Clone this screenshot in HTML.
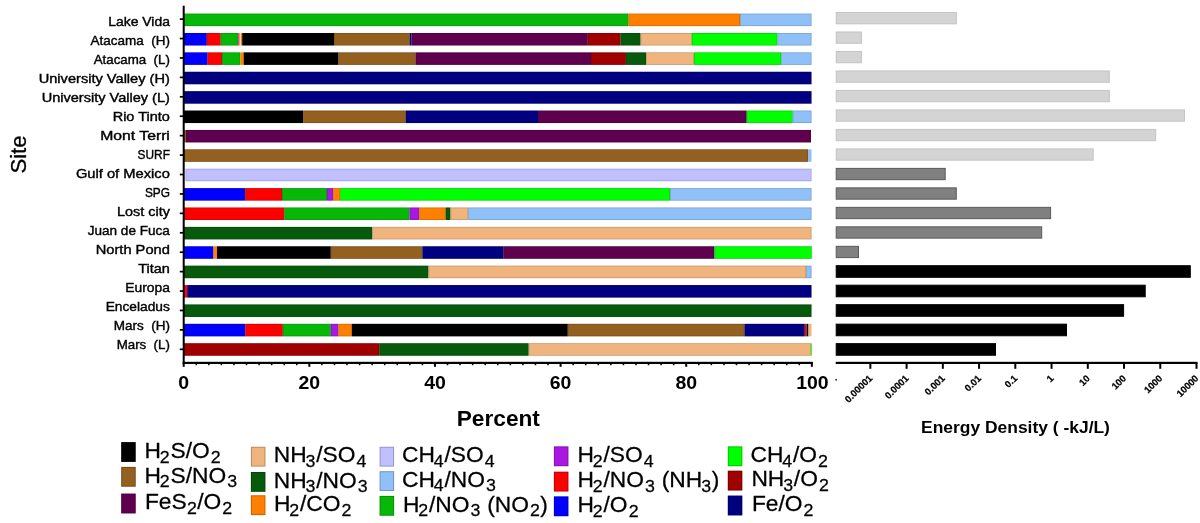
<!DOCTYPE html>
<html><head><meta charset="utf-8"><title>chart</title>
<style>html,body{margin:0;padding:0;background:#fff;width:1200px;height:523px;overflow:hidden}</style></head>
<body>
<svg width="1200" height="523" viewBox="0 0 1200 523" style="position:absolute;left:0;top:0;will-change:transform;filter:blur(0.4px)">
<rect width="1200" height="523" fill="#fff"/>
<rect x="184.00" y="13.60" width="444.50" height="12.5" fill="#08b808"/>
<rect x="184.40" y="14.00" width="443.70" height="11.7" fill="none" stroke="#000" stroke-opacity="0.16" stroke-width="0.8"/>
<rect x="628.50" y="13.60" width="111.50" height="12.5" fill="#ff8000"/>
<rect x="628.90" y="14.00" width="110.70" height="11.7" fill="none" stroke="#000" stroke-opacity="0.16" stroke-width="0.8"/>
<rect x="740.00" y="13.60" width="71.50" height="12.5" fill="#90c0f8"/>
<rect x="740.40" y="14.00" width="70.70" height="11.7" fill="none" stroke="#000" stroke-opacity="0.16" stroke-width="0.8"/>
<rect x="184.00" y="32.99" width="22.80" height="12.5" fill="#0000ff"/>
<rect x="184.40" y="33.39" width="22.00" height="11.7" fill="none" stroke="#000" stroke-opacity="0.16" stroke-width="0.8"/>
<rect x="206.80" y="32.99" width="13.90" height="12.5" fill="#ff0000"/>
<rect x="207.20" y="33.39" width="13.10" height="11.7" fill="none" stroke="#000" stroke-opacity="0.16" stroke-width="0.8"/>
<rect x="220.70" y="32.99" width="17.60" height="12.5" fill="#08b808"/>
<rect x="221.10" y="33.39" width="16.80" height="11.7" fill="none" stroke="#000" stroke-opacity="0.16" stroke-width="0.8"/>
<rect x="238.30" y="32.99" width="1.40" height="12.5" fill="#e8206a"/>
<rect x="239.70" y="32.99" width="1.30" height="12.5" fill="#ffd9b0"/>
<rect x="241.00" y="32.99" width="1.20" height="12.5" fill="#ff8000"/>
<rect x="242.20" y="32.99" width="91.80" height="12.5" fill="#000000"/>
<rect x="242.60" y="33.39" width="91.00" height="11.7" fill="none" stroke="#000" stroke-opacity="0.16" stroke-width="0.8"/>
<rect x="334.00" y="32.99" width="75.80" height="12.5" fill="#93601f"/>
<rect x="334.40" y="33.39" width="75.00" height="11.7" fill="none" stroke="#000" stroke-opacity="0.16" stroke-width="0.8"/>
<rect x="409.80" y="32.99" width="1.80" height="12.5" fill="#000080"/>
<rect x="411.60" y="32.99" width="176.20" height="12.5" fill="#5f004f"/>
<rect x="412.00" y="33.39" width="175.40" height="11.7" fill="none" stroke="#000" stroke-opacity="0.16" stroke-width="0.8"/>
<rect x="587.80" y="32.99" width="32.70" height="12.5" fill="#a00000"/>
<rect x="588.20" y="33.39" width="31.90" height="11.7" fill="none" stroke="#000" stroke-opacity="0.16" stroke-width="0.8"/>
<rect x="620.50" y="32.99" width="20.10" height="12.5" fill="#075a0b"/>
<rect x="620.90" y="33.39" width="19.30" height="11.7" fill="none" stroke="#000" stroke-opacity="0.16" stroke-width="0.8"/>
<rect x="640.60" y="32.99" width="51.20" height="12.5" fill="#f0b57f"/>
<rect x="641.00" y="33.39" width="50.40" height="11.7" fill="none" stroke="#000" stroke-opacity="0.16" stroke-width="0.8"/>
<rect x="691.80" y="32.99" width="85.60" height="12.5" fill="#00ff00"/>
<rect x="692.20" y="33.39" width="84.80" height="11.7" fill="none" stroke="#000" stroke-opacity="0.16" stroke-width="0.8"/>
<rect x="777.40" y="32.99" width="34.10" height="12.5" fill="#90c0f8"/>
<rect x="777.80" y="33.39" width="33.30" height="11.7" fill="none" stroke="#000" stroke-opacity="0.16" stroke-width="0.8"/>
<rect x="184.00" y="52.38" width="23.60" height="12.5" fill="#0000ff"/>
<rect x="184.40" y="52.78" width="22.80" height="11.7" fill="none" stroke="#000" stroke-opacity="0.16" stroke-width="0.8"/>
<rect x="207.60" y="52.38" width="14.40" height="12.5" fill="#ff0000"/>
<rect x="208.00" y="52.78" width="13.60" height="11.7" fill="none" stroke="#000" stroke-opacity="0.16" stroke-width="0.8"/>
<rect x="222.00" y="52.38" width="18.30" height="12.5" fill="#08b808"/>
<rect x="222.40" y="52.78" width="17.50" height="11.7" fill="none" stroke="#000" stroke-opacity="0.16" stroke-width="0.8"/>
<rect x="240.30" y="52.38" width="3.40" height="12.5" fill="#ff8000"/>
<rect x="243.70" y="52.38" width="94.80" height="12.5" fill="#000000"/>
<rect x="244.10" y="52.78" width="94.00" height="11.7" fill="none" stroke="#000" stroke-opacity="0.16" stroke-width="0.8"/>
<rect x="338.50" y="52.38" width="77.20" height="12.5" fill="#93601f"/>
<rect x="338.90" y="52.78" width="76.40" height="11.7" fill="none" stroke="#000" stroke-opacity="0.16" stroke-width="0.8"/>
<rect x="415.70" y="52.38" width="175.30" height="12.5" fill="#5f004f"/>
<rect x="416.10" y="52.78" width="174.50" height="11.7" fill="none" stroke="#000" stroke-opacity="0.16" stroke-width="0.8"/>
<rect x="591.00" y="52.38" width="34.90" height="12.5" fill="#a00000"/>
<rect x="591.40" y="52.78" width="34.10" height="11.7" fill="none" stroke="#000" stroke-opacity="0.16" stroke-width="0.8"/>
<rect x="625.90" y="52.38" width="20.10" height="12.5" fill="#075a0b"/>
<rect x="626.30" y="52.78" width="19.30" height="11.7" fill="none" stroke="#000" stroke-opacity="0.16" stroke-width="0.8"/>
<rect x="646.00" y="52.38" width="47.90" height="12.5" fill="#f0b57f"/>
<rect x="646.40" y="52.78" width="47.10" height="11.7" fill="none" stroke="#000" stroke-opacity="0.16" stroke-width="0.8"/>
<rect x="693.90" y="52.38" width="87.30" height="12.5" fill="#00ff00"/>
<rect x="694.30" y="52.78" width="86.50" height="11.7" fill="none" stroke="#000" stroke-opacity="0.16" stroke-width="0.8"/>
<rect x="781.20" y="52.38" width="30.30" height="12.5" fill="#90c0f8"/>
<rect x="781.60" y="52.78" width="29.50" height="11.7" fill="none" stroke="#000" stroke-opacity="0.16" stroke-width="0.8"/>
<rect x="184.00" y="71.77" width="627.50" height="12.5" fill="#000080"/>
<rect x="184.40" y="72.17" width="626.70" height="11.7" fill="none" stroke="#000" stroke-opacity="0.16" stroke-width="0.8"/>
<rect x="184.00" y="91.16" width="627.50" height="12.5" fill="#000080"/>
<rect x="184.40" y="91.56" width="626.70" height="11.7" fill="none" stroke="#000" stroke-opacity="0.16" stroke-width="0.8"/>
<rect x="184.00" y="110.55" width="119.20" height="12.5" fill="#000000"/>
<rect x="184.40" y="110.95" width="118.40" height="11.7" fill="none" stroke="#000" stroke-opacity="0.16" stroke-width="0.8"/>
<rect x="303.20" y="110.55" width="102.60" height="12.5" fill="#93601f"/>
<rect x="303.60" y="110.95" width="101.80" height="11.7" fill="none" stroke="#000" stroke-opacity="0.16" stroke-width="0.8"/>
<rect x="405.80" y="110.55" width="132.20" height="12.5" fill="#000080"/>
<rect x="406.20" y="110.95" width="131.40" height="11.7" fill="none" stroke="#000" stroke-opacity="0.16" stroke-width="0.8"/>
<rect x="538.00" y="110.55" width="208.70" height="12.5" fill="#5f004f"/>
<rect x="538.40" y="110.95" width="207.90" height="11.7" fill="none" stroke="#000" stroke-opacity="0.16" stroke-width="0.8"/>
<rect x="746.70" y="110.55" width="46.00" height="12.5" fill="#00ff00"/>
<rect x="747.10" y="110.95" width="45.20" height="11.7" fill="none" stroke="#000" stroke-opacity="0.16" stroke-width="0.8"/>
<rect x="792.70" y="110.55" width="18.80" height="12.5" fill="#90c0f8"/>
<rect x="793.10" y="110.95" width="18.00" height="11.7" fill="none" stroke="#000" stroke-opacity="0.16" stroke-width="0.8"/>
<rect x="184.00" y="129.94" width="2.00" height="12.5" fill="#93601f"/>
<rect x="186.00" y="129.94" width="625.00" height="12.5" fill="#5f004f"/>
<rect x="186.40" y="130.34" width="624.20" height="11.7" fill="none" stroke="#000" stroke-opacity="0.16" stroke-width="0.8"/>
<rect x="184.00" y="149.33" width="624.00" height="12.5" fill="#93601f"/>
<rect x="184.40" y="149.73" width="623.20" height="11.7" fill="none" stroke="#000" stroke-opacity="0.16" stroke-width="0.8"/>
<rect x="808.00" y="149.33" width="3.50" height="12.5" fill="#90c0f8"/>
<rect x="185.50" y="168.72" width="626.00" height="12.5" fill="#c0c0ff"/>
<rect x="185.90" y="169.12" width="625.20" height="11.7" fill="none" stroke="#000" stroke-opacity="0.16" stroke-width="0.8"/>
<rect x="184.00" y="188.11" width="61.10" height="12.5" fill="#0000ff"/>
<rect x="184.40" y="188.51" width="60.30" height="11.7" fill="none" stroke="#000" stroke-opacity="0.16" stroke-width="0.8"/>
<rect x="245.10" y="188.11" width="36.90" height="12.5" fill="#ff0000"/>
<rect x="245.50" y="188.51" width="36.10" height="11.7" fill="none" stroke="#000" stroke-opacity="0.16" stroke-width="0.8"/>
<rect x="282.00" y="188.11" width="45.00" height="12.5" fill="#08b808"/>
<rect x="282.40" y="188.51" width="44.20" height="11.7" fill="none" stroke="#000" stroke-opacity="0.16" stroke-width="0.8"/>
<rect x="327.00" y="188.11" width="6.20" height="12.5" fill="#a818e0"/>
<rect x="327.40" y="188.51" width="5.40" height="11.7" fill="none" stroke="#000" stroke-opacity="0.16" stroke-width="0.8"/>
<rect x="333.20" y="188.11" width="7.00" height="12.5" fill="#ff8000"/>
<rect x="333.60" y="188.51" width="6.20" height="11.7" fill="none" stroke="#000" stroke-opacity="0.16" stroke-width="0.8"/>
<rect x="340.20" y="188.11" width="329.80" height="12.5" fill="#00ff00"/>
<rect x="340.60" y="188.51" width="329.00" height="11.7" fill="none" stroke="#000" stroke-opacity="0.16" stroke-width="0.8"/>
<rect x="670.00" y="188.11" width="141.50" height="12.5" fill="#90c0f8"/>
<rect x="670.40" y="188.51" width="140.70" height="11.7" fill="none" stroke="#000" stroke-opacity="0.16" stroke-width="0.8"/>
<rect x="184.00" y="207.50" width="100.40" height="12.5" fill="#ff0000"/>
<rect x="184.40" y="207.90" width="99.60" height="11.7" fill="none" stroke="#000" stroke-opacity="0.16" stroke-width="0.8"/>
<rect x="284.40" y="207.50" width="125.10" height="12.5" fill="#08b808"/>
<rect x="284.80" y="207.90" width="124.30" height="11.7" fill="none" stroke="#000" stroke-opacity="0.16" stroke-width="0.8"/>
<rect x="409.50" y="207.50" width="9.70" height="12.5" fill="#a818e0"/>
<rect x="409.90" y="207.90" width="8.90" height="11.7" fill="none" stroke="#000" stroke-opacity="0.16" stroke-width="0.8"/>
<rect x="419.20" y="207.50" width="26.50" height="12.5" fill="#ff8000"/>
<rect x="419.60" y="207.90" width="25.70" height="11.7" fill="none" stroke="#000" stroke-opacity="0.16" stroke-width="0.8"/>
<rect x="445.70" y="207.50" width="4.80" height="12.5" fill="#075a0b"/>
<rect x="446.10" y="207.90" width="4.00" height="11.7" fill="none" stroke="#000" stroke-opacity="0.16" stroke-width="0.8"/>
<rect x="450.50" y="207.50" width="17.70" height="12.5" fill="#f0b57f"/>
<rect x="450.90" y="207.90" width="16.90" height="11.7" fill="none" stroke="#000" stroke-opacity="0.16" stroke-width="0.8"/>
<rect x="468.20" y="207.50" width="343.30" height="12.5" fill="#90c0f8"/>
<rect x="468.60" y="207.90" width="342.50" height="11.7" fill="none" stroke="#000" stroke-opacity="0.16" stroke-width="0.8"/>
<rect x="184.00" y="226.89" width="188.30" height="12.5" fill="#075a0b"/>
<rect x="184.40" y="227.29" width="187.50" height="11.7" fill="none" stroke="#000" stroke-opacity="0.16" stroke-width="0.8"/>
<rect x="372.30" y="226.89" width="439.20" height="12.5" fill="#f0b57f"/>
<rect x="372.70" y="227.29" width="438.40" height="11.7" fill="none" stroke="#000" stroke-opacity="0.16" stroke-width="0.8"/>
<rect x="184.00" y="246.28" width="29.50" height="12.5" fill="#0000ff"/>
<rect x="184.40" y="246.68" width="28.70" height="11.7" fill="none" stroke="#000" stroke-opacity="0.16" stroke-width="0.8"/>
<rect x="213.50" y="246.28" width="3.50" height="12.5" fill="#ff8000"/>
<rect x="217.00" y="246.28" width="113.80" height="12.5" fill="#000000"/>
<rect x="217.40" y="246.68" width="113.00" height="11.7" fill="none" stroke="#000" stroke-opacity="0.16" stroke-width="0.8"/>
<rect x="330.80" y="246.28" width="91.60" height="12.5" fill="#93601f"/>
<rect x="331.20" y="246.68" width="90.80" height="11.7" fill="none" stroke="#000" stroke-opacity="0.16" stroke-width="0.8"/>
<rect x="422.40" y="246.28" width="80.80" height="12.5" fill="#000080"/>
<rect x="422.80" y="246.68" width="80.00" height="11.7" fill="none" stroke="#000" stroke-opacity="0.16" stroke-width="0.8"/>
<rect x="503.20" y="246.28" width="211.30" height="12.5" fill="#5f004f"/>
<rect x="503.60" y="246.68" width="210.50" height="11.7" fill="none" stroke="#000" stroke-opacity="0.16" stroke-width="0.8"/>
<rect x="714.50" y="246.28" width="97.20" height="12.5" fill="#00ff00"/>
<rect x="714.90" y="246.68" width="96.40" height="11.7" fill="none" stroke="#000" stroke-opacity="0.16" stroke-width="0.8"/>
<rect x="184.00" y="265.67" width="244.50" height="12.5" fill="#075a0b"/>
<rect x="184.40" y="266.07" width="243.70" height="11.7" fill="none" stroke="#000" stroke-opacity="0.16" stroke-width="0.8"/>
<rect x="428.50" y="265.67" width="377.60" height="12.5" fill="#f0b57f"/>
<rect x="428.90" y="266.07" width="376.80" height="11.7" fill="none" stroke="#000" stroke-opacity="0.16" stroke-width="0.8"/>
<rect x="806.10" y="265.67" width="5.40" height="12.5" fill="#90c0f8"/>
<rect x="806.50" y="266.07" width="4.60" height="11.7" fill="none" stroke="#000" stroke-opacity="0.16" stroke-width="0.8"/>
<rect x="184.00" y="285.06" width="3.20" height="12.5" fill="#ff0000"/>
<rect x="187.20" y="285.06" width="624.30" height="12.5" fill="#000080"/>
<rect x="187.60" y="285.46" width="623.50" height="11.7" fill="none" stroke="#000" stroke-opacity="0.16" stroke-width="0.8"/>
<rect x="184.00" y="304.45" width="627.50" height="12.5" fill="#075a0b"/>
<rect x="184.40" y="304.85" width="626.70" height="11.7" fill="none" stroke="#000" stroke-opacity="0.16" stroke-width="0.8"/>
<rect x="184.00" y="323.84" width="61.30" height="12.5" fill="#0000ff"/>
<rect x="184.40" y="324.24" width="60.50" height="11.7" fill="none" stroke="#000" stroke-opacity="0.16" stroke-width="0.8"/>
<rect x="245.30" y="323.84" width="37.50" height="12.5" fill="#ff0000"/>
<rect x="245.70" y="324.24" width="36.70" height="11.7" fill="none" stroke="#000" stroke-opacity="0.16" stroke-width="0.8"/>
<rect x="282.80" y="323.84" width="48.00" height="12.5" fill="#08b808"/>
<rect x="283.20" y="324.24" width="47.20" height="11.7" fill="none" stroke="#000" stroke-opacity="0.16" stroke-width="0.8"/>
<rect x="330.80" y="323.84" width="7.70" height="12.5" fill="#a818e0"/>
<rect x="331.20" y="324.24" width="6.90" height="11.7" fill="none" stroke="#000" stroke-opacity="0.16" stroke-width="0.8"/>
<rect x="338.50" y="323.84" width="13.40" height="12.5" fill="#ff8000"/>
<rect x="338.90" y="324.24" width="12.60" height="11.7" fill="none" stroke="#000" stroke-opacity="0.16" stroke-width="0.8"/>
<rect x="351.90" y="323.84" width="215.90" height="12.5" fill="#000000"/>
<rect x="352.30" y="324.24" width="215.10" height="11.7" fill="none" stroke="#000" stroke-opacity="0.16" stroke-width="0.8"/>
<rect x="567.80" y="323.84" width="176.70" height="12.5" fill="#93601f"/>
<rect x="568.20" y="324.24" width="175.90" height="11.7" fill="none" stroke="#000" stroke-opacity="0.16" stroke-width="0.8"/>
<rect x="744.50" y="323.84" width="60.30" height="12.5" fill="#000080"/>
<rect x="744.90" y="324.24" width="59.50" height="11.7" fill="none" stroke="#000" stroke-opacity="0.16" stroke-width="0.8"/>
<rect x="804.80" y="323.84" width="1.80" height="12.5" fill="#ff0000"/>
<rect x="806.60" y="323.84" width="1.90" height="12.5" fill="#000000"/>
<rect x="808.50" y="323.84" width="3.00" height="12.5" fill="#f0b57f"/>
<rect x="184.00" y="343.23" width="195.20" height="12.5" fill="#a00000"/>
<rect x="184.40" y="343.63" width="194.40" height="11.7" fill="none" stroke="#000" stroke-opacity="0.16" stroke-width="0.8"/>
<rect x="379.20" y="343.23" width="149.50" height="12.5" fill="#075a0b"/>
<rect x="379.60" y="343.63" width="148.70" height="11.7" fill="none" stroke="#000" stroke-opacity="0.16" stroke-width="0.8"/>
<rect x="528.70" y="343.23" width="282.20" height="12.5" fill="#f0b57f"/>
<rect x="529.10" y="343.63" width="281.40" height="11.7" fill="none" stroke="#000" stroke-opacity="0.16" stroke-width="0.8"/>
<rect x="810.90" y="343.23" width="0.90" height="12.5" fill="#00ff00"/>
<rect x="836.20" y="12.50" width="120.10" height="11.3" fill="#d4d4d4" stroke="#c4c4c4" stroke-width="1"/>
<rect x="836.20" y="31.98" width="25.20" height="11.3" fill="#d4d4d4" stroke="#c4c4c4" stroke-width="1"/>
<rect x="836.20" y="51.47" width="25.20" height="11.3" fill="#d4d4d4" stroke="#c4c4c4" stroke-width="1"/>
<rect x="836.20" y="70.95" width="273.10" height="11.3" fill="#d4d4d4" stroke="#c4c4c4" stroke-width="1"/>
<rect x="836.20" y="90.44" width="273.10" height="11.3" fill="#d4d4d4" stroke="#c4c4c4" stroke-width="1"/>
<rect x="836.20" y="109.92" width="348.30" height="11.3" fill="#d4d4d4" stroke="#c4c4c4" stroke-width="1"/>
<rect x="836.20" y="129.41" width="319.50" height="11.3" fill="#d4d4d4" stroke="#c4c4c4" stroke-width="1"/>
<rect x="836.20" y="148.89" width="257.00" height="11.3" fill="#d4d4d4" stroke="#c4c4c4" stroke-width="1"/>
<rect x="836.20" y="168.38" width="109.00" height="11.3" fill="#808080" stroke="#5a5a5a" stroke-width="1"/>
<rect x="836.20" y="187.87" width="120.10" height="11.3" fill="#808080" stroke="#5a5a5a" stroke-width="1"/>
<rect x="836.20" y="207.35" width="214.40" height="11.3" fill="#808080" stroke="#5a5a5a" stroke-width="1"/>
<rect x="836.20" y="226.83" width="205.50" height="11.3" fill="#808080" stroke="#5a5a5a" stroke-width="1"/>
<rect x="836.20" y="246.32" width="22.30" height="11.3" fill="#808080" stroke="#5a5a5a" stroke-width="1"/>
<rect x="836.20" y="265.70" width="354.10" height="11.6" fill="#000000" stroke="#000" stroke-width="1"/>
<rect x="836.20" y="285.19" width="309.00" height="11.6" fill="#000000" stroke="#000" stroke-width="1"/>
<rect x="836.20" y="304.67" width="287.40" height="11.6" fill="#000000" stroke="#000" stroke-width="1"/>
<rect x="836.20" y="324.16" width="230.30" height="11.6" fill="#000000" stroke="#000" stroke-width="1"/>
<rect x="836.20" y="343.64" width="159.30" height="11.6" fill="#000000" stroke="#000" stroke-width="1"/>
<rect x="182.7" y="5.7" width="2" height="358" fill="#000"/>
<rect x="182.7" y="361.8" width="630.2" height="2.2" fill="#000"/>
<rect x="179.8" y="18.25" width="3.5" height="1.7" fill="#000"/>
<rect x="179.8" y="37.68" width="3.5" height="1.7" fill="#000"/>
<rect x="179.8" y="57.10" width="3.5" height="1.7" fill="#000"/>
<rect x="179.8" y="76.53" width="3.5" height="1.7" fill="#000"/>
<rect x="179.8" y="95.95" width="3.5" height="1.7" fill="#000"/>
<rect x="179.8" y="115.38" width="3.5" height="1.7" fill="#000"/>
<rect x="179.8" y="134.80" width="3.5" height="1.7" fill="#000"/>
<rect x="179.8" y="154.22" width="3.5" height="1.7" fill="#000"/>
<rect x="179.8" y="173.65" width="3.5" height="1.7" fill="#000"/>
<rect x="179.8" y="193.08" width="3.5" height="1.7" fill="#000"/>
<rect x="179.8" y="212.50" width="3.5" height="1.7" fill="#000"/>
<rect x="179.8" y="231.93" width="3.5" height="1.7" fill="#000"/>
<rect x="179.8" y="251.35" width="3.5" height="1.7" fill="#000"/>
<rect x="179.8" y="270.77" width="3.5" height="1.7" fill="#000"/>
<rect x="179.8" y="290.20" width="3.5" height="1.7" fill="#000"/>
<rect x="179.8" y="309.62" width="3.5" height="1.7" fill="#000"/>
<rect x="179.8" y="329.05" width="3.5" height="1.7" fill="#000"/>
<rect x="179.8" y="348.48" width="3.5" height="1.7" fill="#000"/>
<rect x="182.70" y="363" width="2" height="3.8" fill="#000"/>
<rect x="195.46" y="363" width="1.6" height="2.2" fill="#000"/>
<rect x="208.03" y="363" width="1.6" height="2.2" fill="#000"/>
<rect x="220.59" y="363" width="1.6" height="2.2" fill="#000"/>
<rect x="233.15" y="363" width="1.6" height="2.2" fill="#000"/>
<rect x="245.71" y="363" width="1.6" height="2.2" fill="#000"/>
<rect x="258.28" y="363" width="1.6" height="2.2" fill="#000"/>
<rect x="270.84" y="363" width="1.6" height="2.2" fill="#000"/>
<rect x="283.40" y="363" width="1.6" height="2.2" fill="#000"/>
<rect x="295.97" y="363" width="1.6" height="2.2" fill="#000"/>
<rect x="308.33" y="363" width="2" height="3.8" fill="#000"/>
<rect x="321.09" y="363" width="1.6" height="2.2" fill="#000"/>
<rect x="333.66" y="363" width="1.6" height="2.2" fill="#000"/>
<rect x="346.22" y="363" width="1.6" height="2.2" fill="#000"/>
<rect x="358.78" y="363" width="1.6" height="2.2" fill="#000"/>
<rect x="371.34" y="363" width="1.6" height="2.2" fill="#000"/>
<rect x="383.91" y="363" width="1.6" height="2.2" fill="#000"/>
<rect x="396.47" y="363" width="1.6" height="2.2" fill="#000"/>
<rect x="409.03" y="363" width="1.6" height="2.2" fill="#000"/>
<rect x="421.60" y="363" width="1.6" height="2.2" fill="#000"/>
<rect x="433.96" y="363" width="2" height="3.8" fill="#000"/>
<rect x="446.72" y="363" width="1.6" height="2.2" fill="#000"/>
<rect x="459.29" y="363" width="1.6" height="2.2" fill="#000"/>
<rect x="471.85" y="363" width="1.6" height="2.2" fill="#000"/>
<rect x="484.41" y="363" width="1.6" height="2.2" fill="#000"/>
<rect x="496.97" y="363" width="1.6" height="2.2" fill="#000"/>
<rect x="509.54" y="363" width="1.6" height="2.2" fill="#000"/>
<rect x="522.10" y="363" width="1.6" height="2.2" fill="#000"/>
<rect x="534.66" y="363" width="1.6" height="2.2" fill="#000"/>
<rect x="547.23" y="363" width="1.6" height="2.2" fill="#000"/>
<rect x="559.59" y="363" width="2" height="3.8" fill="#000"/>
<rect x="572.35" y="363" width="1.6" height="2.2" fill="#000"/>
<rect x="584.92" y="363" width="1.6" height="2.2" fill="#000"/>
<rect x="597.48" y="363" width="1.6" height="2.2" fill="#000"/>
<rect x="610.04" y="363" width="1.6" height="2.2" fill="#000"/>
<rect x="622.61" y="363" width="1.6" height="2.2" fill="#000"/>
<rect x="635.17" y="363" width="1.6" height="2.2" fill="#000"/>
<rect x="647.73" y="363" width="1.6" height="2.2" fill="#000"/>
<rect x="660.29" y="363" width="1.6" height="2.2" fill="#000"/>
<rect x="672.86" y="363" width="1.6" height="2.2" fill="#000"/>
<rect x="685.22" y="363" width="2" height="3.8" fill="#000"/>
<rect x="697.98" y="363" width="1.6" height="2.2" fill="#000"/>
<rect x="710.55" y="363" width="1.6" height="2.2" fill="#000"/>
<rect x="723.11" y="363" width="1.6" height="2.2" fill="#000"/>
<rect x="735.67" y="363" width="1.6" height="2.2" fill="#000"/>
<rect x="748.24" y="363" width="1.6" height="2.2" fill="#000"/>
<rect x="760.80" y="363" width="1.6" height="2.2" fill="#000"/>
<rect x="773.36" y="363" width="1.6" height="2.2" fill="#000"/>
<rect x="785.92" y="363" width="1.6" height="2.2" fill="#000"/>
<rect x="798.49" y="363" width="1.6" height="2.2" fill="#000"/>
<rect x="810.85" y="363" width="2" height="3.8" fill="#000"/>
<rect x="835.7" y="361.8" width="361.8" height="2.2" fill="#000"/>
<rect x="869.35" y="363" width="2" height="5.8" fill="#000"/>
<rect x="905.59" y="363" width="2" height="5.8" fill="#000"/>
<rect x="941.83" y="363" width="2" height="5.8" fill="#000"/>
<rect x="978.07" y="363" width="2" height="5.8" fill="#000"/>
<rect x="1014.31" y="363" width="2" height="5.8" fill="#000"/>
<rect x="1050.55" y="363" width="2" height="5.8" fill="#000"/>
<rect x="1086.79" y="363" width="2" height="5.8" fill="#000"/>
<rect x="1123.03" y="363" width="2" height="5.8" fill="#000"/>
<rect x="1159.27" y="363" width="2" height="5.8" fill="#000"/>
<rect x="1195.51" y="363" width="2" height="5.8" fill="#000"/>
<rect x="835.3" y="379.0" width="1.6" height="1.5" fill="#222"/>
<text x="108.20" y="25.75" font-family="Liberation Sans, sans-serif" font-size="13.4" textLength="61.70" lengthAdjust="spacingAndGlyphs" fill="#000" stroke="#000" stroke-width="0.4">Lake Vida</text>
<text x="90.50" y="44.79" font-family="Liberation Sans, sans-serif" font-size="13.4" textLength="79.40" lengthAdjust="spacingAndGlyphs" fill="#000" stroke="#000" stroke-width="0.4">Atacama &#160;(H)</text>
<text x="93.70" y="63.83" font-family="Liberation Sans, sans-serif" font-size="13.4" textLength="76.20" lengthAdjust="spacingAndGlyphs" fill="#000" stroke="#000" stroke-width="0.4">Atacama &#160;(L)</text>
<text x="38.70" y="82.87" font-family="Liberation Sans, sans-serif" font-size="13.4" textLength="131.20" lengthAdjust="spacingAndGlyphs" fill="#000" stroke="#000" stroke-width="0.4">University Valley (H)</text>
<text x="41.70" y="101.91" font-family="Liberation Sans, sans-serif" font-size="13.4" textLength="128.20" lengthAdjust="spacingAndGlyphs" fill="#000" stroke="#000" stroke-width="0.4">University Valley (L)</text>
<text x="112.70" y="120.95" font-family="Liberation Sans, sans-serif" font-size="13.4" textLength="57.20" lengthAdjust="spacingAndGlyphs" fill="#000" stroke="#000" stroke-width="0.4">Rio Tinto</text>
<text x="100.20" y="139.99" font-family="Liberation Sans, sans-serif" font-size="13.4" textLength="69.70" lengthAdjust="spacingAndGlyphs" fill="#000" stroke="#000" stroke-width="0.4">Mont Terri</text>
<text x="137.60" y="159.03" font-family="Liberation Sans, sans-serif" font-size="13.4" textLength="32.30" lengthAdjust="spacingAndGlyphs" fill="#000" stroke="#000" stroke-width="0.4">SURF</text>
<text x="75.90" y="178.07" font-family="Liberation Sans, sans-serif" font-size="13.4" textLength="94.00" lengthAdjust="spacingAndGlyphs" fill="#000" stroke="#000" stroke-width="0.4">Gulf of Mexico</text>
<text x="144.90" y="197.11" font-family="Liberation Sans, sans-serif" font-size="13.4" textLength="25.00" lengthAdjust="spacingAndGlyphs" fill="#000" stroke="#000" stroke-width="0.4">SPG</text>
<text x="117.10" y="216.15" font-family="Liberation Sans, sans-serif" font-size="13.4" textLength="52.80" lengthAdjust="spacingAndGlyphs" fill="#000" stroke="#000" stroke-width="0.4">Lost city</text>
<text x="87.70" y="235.19" font-family="Liberation Sans, sans-serif" font-size="13.4" textLength="82.20" lengthAdjust="spacingAndGlyphs" fill="#000" stroke="#000" stroke-width="0.4">Juan de Fuca</text>
<text x="95.70" y="254.23" font-family="Liberation Sans, sans-serif" font-size="13.4" textLength="74.20" lengthAdjust="spacingAndGlyphs" fill="#000" stroke="#000" stroke-width="0.4">North Pond</text>
<text x="138.20" y="273.27" font-family="Liberation Sans, sans-serif" font-size="13.4" textLength="31.70" lengthAdjust="spacingAndGlyphs" fill="#000" stroke="#000" stroke-width="0.4">Titan</text>
<text x="125.20" y="292.31" font-family="Liberation Sans, sans-serif" font-size="13.4" textLength="44.70" lengthAdjust="spacingAndGlyphs" fill="#000" stroke="#000" stroke-width="0.4">Europa</text>
<text x="105.70" y="311.35" font-family="Liberation Sans, sans-serif" font-size="13.4" textLength="64.20" lengthAdjust="spacingAndGlyphs" fill="#000" stroke="#000" stroke-width="0.4">Enceladus</text>
<text x="113.70" y="330.39" font-family="Liberation Sans, sans-serif" font-size="13.4" textLength="56.20" lengthAdjust="spacingAndGlyphs" fill="#000" stroke="#000" stroke-width="0.4">Mars &#160;(H)</text>
<text x="116.70" y="349.43" font-family="Liberation Sans, sans-serif" font-size="13.4" textLength="53.20" lengthAdjust="spacingAndGlyphs" fill="#000" stroke="#000" stroke-width="0.4">Mars &#160;(L)</text>
<text transform="translate(25.8,173.6) rotate(-90) scale(1.03,1)" font-family="Liberation Sans, sans-serif" font-size="21.5" fill="#000" stroke="#000" stroke-width="0.3">Site</text>
<text transform="translate(183.70,389.3) scale(1.07,1)" text-anchor="middle" font-family="Liberation Sans, sans-serif" font-weight="bold" font-size="18.2" fill="#000">0</text>
<text transform="translate(309.33,389.3) scale(1.07,1)" text-anchor="middle" font-family="Liberation Sans, sans-serif" font-weight="bold" font-size="18.2" fill="#000">20</text>
<text transform="translate(434.96,389.3) scale(1.07,1)" text-anchor="middle" font-family="Liberation Sans, sans-serif" font-weight="bold" font-size="18.2" fill="#000">40</text>
<text transform="translate(560.59,389.3) scale(1.07,1)" text-anchor="middle" font-family="Liberation Sans, sans-serif" font-weight="bold" font-size="18.2" fill="#000">60</text>
<text transform="translate(686.22,389.3) scale(1.07,1)" text-anchor="middle" font-family="Liberation Sans, sans-serif" font-weight="bold" font-size="18.2" fill="#000">80</text>
<text transform="translate(812.45,389.3) scale(1.07,1)" text-anchor="middle" font-family="Liberation Sans, sans-serif" font-weight="bold" font-size="18.2" fill="#000">100</text>
<text transform="translate(498.3,425.9) scale(1.05,1)" text-anchor="middle" font-family="Liberation Sans, sans-serif" font-weight="bold" font-size="21.6" fill="#000">Percent</text>
<text transform="translate(1015.5,433.2) scale(1.05,1)" text-anchor="middle" font-family="Liberation Sans, sans-serif" font-weight="bold" font-size="16.6" fill="#000">Energy Density ( -kJ/L)</text>
<text transform="translate(872.95,378.90) rotate(-45)" text-anchor="end" font-family="Liberation Sans, sans-serif" font-weight="bold" font-size="9.5" stroke="#000" stroke-width="0.25" fill="#000">0.00001</text>
<text transform="translate(909.19,378.90) rotate(-45)" text-anchor="end" font-family="Liberation Sans, sans-serif" font-weight="bold" font-size="9.5" stroke="#000" stroke-width="0.25" fill="#000">0.0001</text>
<text transform="translate(945.43,378.90) rotate(-45)" text-anchor="end" font-family="Liberation Sans, sans-serif" font-weight="bold" font-size="9.5" stroke="#000" stroke-width="0.25" fill="#000">0.001</text>
<text transform="translate(981.67,378.90) rotate(-45)" text-anchor="end" font-family="Liberation Sans, sans-serif" font-weight="bold" font-size="9.5" stroke="#000" stroke-width="0.25" fill="#000">0.01</text>
<text transform="translate(1017.91,378.90) rotate(-45)" text-anchor="end" font-family="Liberation Sans, sans-serif" font-weight="bold" font-size="9.5" stroke="#000" stroke-width="0.25" fill="#000">0.1</text>
<text transform="translate(1054.15,378.90) rotate(-45)" text-anchor="end" font-family="Liberation Sans, sans-serif" font-weight="bold" font-size="9.5" stroke="#000" stroke-width="0.25" fill="#000">1</text>
<text transform="translate(1090.39,378.90) rotate(-45)" text-anchor="end" font-family="Liberation Sans, sans-serif" font-weight="bold" font-size="9.5" stroke="#000" stroke-width="0.25" fill="#000">10</text>
<text transform="translate(1126.63,378.90) rotate(-45)" text-anchor="end" font-family="Liberation Sans, sans-serif" font-weight="bold" font-size="9.5" stroke="#000" stroke-width="0.25" fill="#000">100</text>
<text transform="translate(1162.87,378.90) rotate(-45)" text-anchor="end" font-family="Liberation Sans, sans-serif" font-weight="bold" font-size="9.5" stroke="#000" stroke-width="0.25" fill="#000">1000</text>
<text transform="translate(1199.11,378.90) rotate(-45)" text-anchor="end" font-family="Liberation Sans, sans-serif" font-weight="bold" font-size="9.5" stroke="#000" stroke-width="0.25" fill="#000">10000</text>
<rect x="121.20" y="442.10" width="14.5" height="19.8" fill="#000000"/>
<rect x="121.70" y="442.60" width="13.5" height="18.8" fill="none" stroke="#000" stroke-opacity="0.22" stroke-width="1"/>
<text transform="translate(144.50,458.10) scale(1.07,1)" font-family="Liberation Sans, sans-serif" font-size="21.3" fill="#000" stroke="#000" stroke-width="0.25">H<tspan font-size="16.6" dy="4.6" dx="-1.0">2</tspan><tspan dy="-4.6" dx="0.70">S</tspan>/O<tspan font-size="16.6" dy="4.6" dx="1.0">2</tspan></text>
<rect x="121.20" y="466.90" width="14.5" height="19.8" fill="#93601f"/>
<rect x="121.70" y="467.40" width="13.5" height="18.8" fill="none" stroke="#000" stroke-opacity="0.22" stroke-width="1"/>
<text transform="translate(144.50,482.60) scale(1.07,1)" font-family="Liberation Sans, sans-serif" font-size="21.3" fill="#000" stroke="#000" stroke-width="0.25">H<tspan font-size="16.6" dy="4.6" dx="-1.0">2</tspan><tspan dy="-4.6" dx="0.70">S</tspan>/NO<tspan font-size="16.6" dy="4.6" dx="1.0">3</tspan></text>
<rect x="121.20" y="493.60" width="14.5" height="19.8" fill="#5f004f"/>
<rect x="121.70" y="494.10" width="13.5" height="18.8" fill="none" stroke="#000" stroke-opacity="0.22" stroke-width="1"/>
<text transform="translate(144.90,509.40) scale(1.07,1)" font-family="Liberation Sans, sans-serif" font-size="21.3" fill="#000" stroke="#000" stroke-width="0.25">FeS<tspan font-size="16.6" dy="4.6" dx="0.2">2</tspan><tspan dy="-4.6" dx="0.40">/</tspan>O<tspan font-size="16.6" dy="4.6" dx="1.0">2</tspan></text>
<rect x="250.90" y="446.80" width="14.5" height="19.8" fill="#f0b57f"/>
<rect x="251.40" y="447.30" width="13.5" height="18.8" fill="none" stroke="#000" stroke-opacity="0.22" stroke-width="1"/>
<text transform="translate(273.70,462.30) scale(1.07,1)" font-family="Liberation Sans, sans-serif" font-size="21.3" fill="#000" stroke="#000" stroke-width="0.25">NH<tspan font-size="16.6" dy="4.6" dx="-1.0">3</tspan><tspan dy="-4.6" dx="0.70">/</tspan>SO<tspan font-size="16.6" dy="4.6" dx="1.0">4</tspan></text>
<rect x="250.90" y="472.00" width="14.5" height="19.8" fill="#075a0b"/>
<rect x="251.40" y="472.50" width="13.5" height="18.8" fill="none" stroke="#000" stroke-opacity="0.22" stroke-width="1"/>
<text transform="translate(273.70,487.50) scale(1.07,1)" font-family="Liberation Sans, sans-serif" font-size="21.3" fill="#000" stroke="#000" stroke-width="0.25">NH<tspan font-size="16.6" dy="4.6" dx="-1.0">3</tspan><tspan dy="-4.6" dx="0.70">/</tspan>NO<tspan font-size="16.6" dy="4.6" dx="1.0">3</tspan></text>
<rect x="250.90" y="495.30" width="14.5" height="19.8" fill="#ff8000"/>
<rect x="251.40" y="495.80" width="13.5" height="18.8" fill="none" stroke="#000" stroke-opacity="0.22" stroke-width="1"/>
<text transform="translate(274.00,511.10) scale(1.07,1)" font-family="Liberation Sans, sans-serif" font-size="21.3" fill="#000" stroke="#000" stroke-width="0.25">H<tspan font-size="16.6" dy="4.6" dx="-1.0">2</tspan><tspan dy="-4.6" dx="0.70">/</tspan>CO<tspan font-size="16.6" dy="4.6" dx="1.0">2</tspan></text>
<rect x="379.60" y="446.80" width="14.5" height="19.8" fill="#c0c0ff"/>
<rect x="380.10" y="447.30" width="13.5" height="18.8" fill="none" stroke="#000" stroke-opacity="0.22" stroke-width="1"/>
<text transform="translate(402.00,462.20) scale(1.07,1)" font-family="Liberation Sans, sans-serif" font-size="21.3" fill="#000" stroke="#000" stroke-width="0.25">CH<tspan font-size="16.6" dy="4.6" dx="-1.0">4</tspan><tspan dy="-4.6" dx="0.70">/</tspan>SO<tspan font-size="16.6" dy="4.6" dx="1.0">4</tspan></text>
<rect x="379.60" y="471.20" width="14.5" height="19.8" fill="#90c0f8"/>
<rect x="380.10" y="471.70" width="13.5" height="18.8" fill="none" stroke="#000" stroke-opacity="0.22" stroke-width="1"/>
<text transform="translate(402.00,486.80) scale(1.07,1)" font-family="Liberation Sans, sans-serif" font-size="21.3" fill="#000" stroke="#000" stroke-width="0.25">CH<tspan font-size="16.6" dy="4.6" dx="-1.0">4</tspan><tspan dy="-4.6" dx="0.70">/</tspan>NO<tspan font-size="16.6" dy="4.6" dx="1.0">3</tspan></text>
<rect x="379.60" y="495.90" width="14.5" height="19.8" fill="#08b808"/>
<rect x="380.10" y="496.40" width="13.5" height="18.8" fill="none" stroke="#000" stroke-opacity="0.22" stroke-width="1"/>
<text transform="translate(402.90,511.50) scale(1.07,1)" font-family="Liberation Sans, sans-serif" font-size="21.3" fill="#000" stroke="#000" stroke-width="0.25">H<tspan font-size="16.6" dy="4.6" dx="-1.0">2</tspan><tspan dy="-4.6" dx="0.70">/</tspan>NO<tspan font-size="16.6" dy="4.6" dx="1.0">3</tspan><tspan dy="-4.6" dx="0.40"> </tspan>(NO<tspan font-size="16.6" dy="4.6" dx="1.0">2</tspan><tspan dy="-4.6" dx="0.40">)</tspan></text>
<rect x="553.90" y="446.40" width="14.5" height="19.8" fill="#a818e0"/>
<rect x="554.40" y="446.90" width="13.5" height="18.8" fill="none" stroke="#000" stroke-opacity="0.22" stroke-width="1"/>
<text transform="translate(577.50,461.90) scale(1.07,1)" font-family="Liberation Sans, sans-serif" font-size="21.3" fill="#000" stroke="#000" stroke-width="0.25">H<tspan font-size="16.6" dy="4.6" dx="-1.0">2</tspan><tspan dy="-4.6" dx="0.70">/</tspan>SO<tspan font-size="16.6" dy="4.6" dx="1.0">4</tspan></text>
<rect x="553.90" y="471.70" width="14.5" height="19.8" fill="#ff0000"/>
<rect x="554.40" y="472.20" width="13.5" height="18.8" fill="none" stroke="#000" stroke-opacity="0.22" stroke-width="1"/>
<text transform="translate(577.50,487.10) scale(1.07,1)" font-family="Liberation Sans, sans-serif" font-size="21.3" fill="#000" stroke="#000" stroke-width="0.25">H<tspan font-size="16.6" dy="4.6" dx="-1.0">2</tspan><tspan dy="-4.6" dx="0.70">/</tspan>NO<tspan font-size="16.6" dy="4.6" dx="1.0">3</tspan><tspan dy="-4.6" dx="0.40"> </tspan>(NH<tspan font-size="16.6" dy="4.6" dx="-1.0">3</tspan><tspan dy="-4.6" dx="0.70">)</tspan></text>
<rect x="553.90" y="496.40" width="14.5" height="19.8" fill="#0000ff"/>
<rect x="554.40" y="496.90" width="13.5" height="18.8" fill="none" stroke="#000" stroke-opacity="0.22" stroke-width="1"/>
<text transform="translate(577.50,512.00) scale(1.07,1)" font-family="Liberation Sans, sans-serif" font-size="21.3" fill="#000" stroke="#000" stroke-width="0.25">H<tspan font-size="16.6" dy="4.6" dx="-1.0">2</tspan><tspan dy="-4.6" dx="0.70">/</tspan>O<tspan font-size="16.6" dy="4.6" dx="1.0">2</tspan></text>
<rect x="727.80" y="446.40" width="14.5" height="19.8" fill="#00ff00"/>
<rect x="728.30" y="446.90" width="13.5" height="18.8" fill="none" stroke="#000" stroke-opacity="0.22" stroke-width="1"/>
<text transform="translate(750.50,461.90) scale(1.07,1)" font-family="Liberation Sans, sans-serif" font-size="21.3" fill="#000" stroke="#000" stroke-width="0.25">CH<tspan font-size="16.6" dy="4.6" dx="-1.0">4</tspan><tspan dy="-4.6" dx="0.70">/</tspan>O<tspan font-size="16.6" dy="4.6" dx="1.0">2</tspan></text>
<rect x="727.80" y="470.70" width="14.5" height="19.8" fill="#a00000"/>
<rect x="728.30" y="471.20" width="13.5" height="18.8" fill="none" stroke="#000" stroke-opacity="0.22" stroke-width="1"/>
<text transform="translate(751.40,486.30) scale(1.07,1)" font-family="Liberation Sans, sans-serif" font-size="21.3" fill="#000" stroke="#000" stroke-width="0.25">NH<tspan font-size="16.6" dy="4.6" dx="-1.0">3</tspan><tspan dy="-4.6" dx="0.70">/</tspan>O<tspan font-size="16.6" dy="4.6" dx="1.0">2</tspan></text>
<rect x="727.80" y="495.60" width="14.5" height="19.8" fill="#000080"/>
<rect x="728.30" y="496.10" width="13.5" height="18.8" fill="none" stroke="#000" stroke-opacity="0.22" stroke-width="1"/>
<text transform="translate(751.90,511.20) scale(1.07,1)" font-family="Liberation Sans, sans-serif" font-size="21.3" fill="#000" stroke="#000" stroke-width="0.25">Fe/O<tspan font-size="16.6" dy="4.6" dx="1.0">2</tspan></text>
</svg>
</body></html>
